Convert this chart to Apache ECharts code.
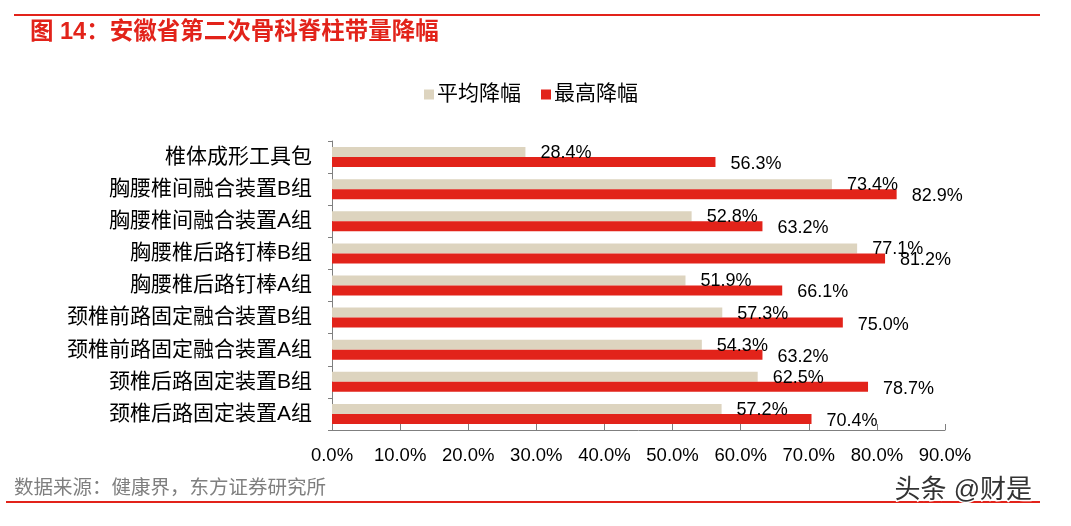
<!DOCTYPE html>
<html><head><meta charset="utf-8">
<script src="https://cdn.jsdelivr.net/npm/echarts@6/dist/echarts.min.js"></script>
<style>html,body{margin:0;padding:0;background:#fff}#c{width:1071px;height:526px}</style>
</head><body><div id="c"></div>
<script>
const categories = ['椎体成形工具包','胸腰椎间融合装置B组','胸腰椎间融合装置A组','胸腰椎后路钉棒B组','胸腰椎后路钉棒A组','颈椎前路固定融合装置B组','颈椎前路固定融合装置A组','颈椎后路固定装置B组','颈椎后路固定装置A组'];
const avgDrop = [28.4,73.4,52.8,77.1,51.9,57.3,54.3,62.5,57.2];
const maxDrop = [56.3,82.9,63.2,81.2,66.1,75.0,63.2,78.7,70.4];
const seriesNames = ['平均降幅','最高降幅'];
const titleText = '图 14：安徽省第二次骨科脊柱带量降幅';
const sourceText = '数据来源：健康界，东方证券研究所';
const watermark = '头条 @财是';

const font = '"Liberation Sans", Arial, "Noto Sans CJK SC", sans-serif';
const chart = echarts.init(document.getElementById('c'), null, {renderer:'canvas'});
const lbl = (dy) => ({show:true, position:'right', distance:15, offset:[0,dy], color:'#000', fontSize:18, fontFamily:font, formatter:p=>p.value.toFixed(1)+'%'});
chart.setOption({
  animation:false,
  textStyle:{fontFamily:font},
  grid:{left:332, right:126, top:141, bottom:96, containLabel:false},
  legend:{top:79, left:419, itemWidth:10, itemHeight:10, itemGap:20, icon:'rect',
    textStyle:{fontSize:21, color:'#000', fontFamily:font, padding:[0,0,0,-2]}, data:seriesNames},
  xAxis:{type:'value', min:0, max:90, interval:10,
    axisLine:{show:true, lineStyle:{color:'#7f7f7f'}},
    axisTick:{show:true, inside:true, length:6, lineStyle:{color:'#7f7f7f'}},
    splitLine:{show:false},
    axisLabel:{margin:17, fontSize:18.5, color:'#000', fontFamily:font, formatter:v=>v.toFixed(1)+'%'}},
  yAxis:{type:'category', inverse:true, data:categories,
    axisLine:{show:true, lineStyle:{color:'#7f7f7f'}},
    axisTick:{show:true, length:4, lineStyle:{color:'#7f7f7f'}},
    axisLabel:{margin:20, fontSize:21, color:'#000', fontFamily:font}},
  series:[
    {name:seriesNames[0], type:'bar', data:avgDrop, barWidth:10, barGap:'0%', itemStyle:{color:'#ddd4bf'}, label:lbl(1)},
    {name:seriesNames[1], type:'bar', data:maxDrop, barWidth:10, barGap:'0%', itemStyle:{color:'#e2231a'}, label:lbl(2)}
  ],
  graphic:[
    {type:'line', shape:{x1:14,y1:15,x2:1040,y2:15}, style:{stroke:'#e2231a', lineWidth:2}},
    {type:'text', left:30, top:21, style:{text:titleText, fill:'#e2231a', fontSize:23.5, fontWeight:'bold', fontFamily:font}},
    {type:'text', left:14, top:479, style:{text:sourceText, fill:'#7f7f7f', fontSize:19.5, fontFamily:font}},
    {type:'line', shape:{x1:6,y1:502,x2:1040,y2:502}, style:{stroke:'#e2231a', lineWidth:2}},
    {type:'text', left:893, top:476, z:10, style:{text:watermark, fill:'#333', fontSize:26, fontFamily:font, stroke:'#fff', lineWidth:3}}
  ]
});
</script></body></html>
